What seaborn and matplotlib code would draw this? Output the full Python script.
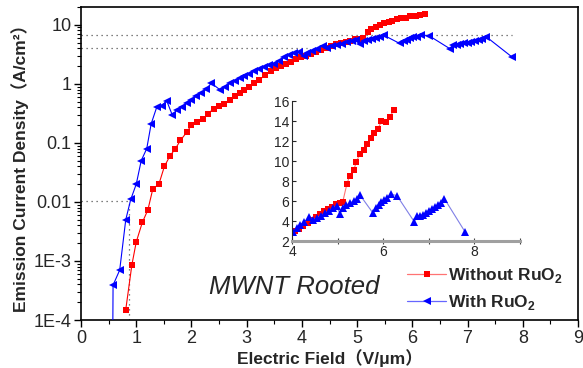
import matplotlib
matplotlib.use("Agg")
import numpy as np
import pandas as pd
import matplotlib.pyplot as plt
import seaborn as sns
from matplotlib.lines import Line2D
from matplotlib.ticker import MultipleLocator

# ---------------- data ----------------
red_x = [0.81, 0.92, 1.00, 1.11, 1.21, 1.30, 1.41, 1.51, 1.61, 1.71,
         1.80, 1.91, 2.00, 2.10, 2.21, 2.30, 2.40, 2.49, 2.59, 2.69,
         2.78, 2.87, 2.96, 3.05, 3.14, 3.23, 3.34, 3.44, 3.53, 3.62,
         3.71, 3.80, 3.89, 3.98, 4.07, 4.16, 4.25, 4.34, 4.43, 4.52,
         4.61, 4.70, 4.79, 4.88, 4.97, 5.05, 5.11, 5.20, 5.26, 5.35,
         5.41, 5.48, 5.57, 5.64, 5.73, 5.80, 5.88, 5.96, 6.06, 6.14, 6.23]
red_y = [1.5e-4, 8.5e-4, 2.1e-3, 4.5e-3, 7.3e-3, 0.0166, 0.020, 0.040, 0.060, 0.080,
         0.11, 0.15, 0.20, 0.23, 0.255, 0.31, 0.38, 0.42, 0.45, 0.54,
         0.61, 0.70, 0.80, 0.90, 1.03, 1.17, 1.42, 1.68, 1.85, 2.02,
         2.18, 2.38, 2.6, 2.8, 3.0, 3.2, 3.5, 3.8, 4.1, 4.4,
         4.7, 5.0, 5.2, 5.4, 5.7, 5.85, 5.9, 7.67, 8.5, 9.1,
         9.9, 10.7, 11.1, 11.7, 12.3, 12.8, 13.2, 14.0, 13.9, 14.4, 15.1]

blue_x = [0.57, 0.58, 0.70, 0.81, 0.90, 1.00, 1.09, 1.19, 1.27, 1.37,
          1.46, 1.55, 1.65, 1.74, 1.82, 1.91, 2.00, 2.09, 2.18, 2.27,
          2.36, 2.51, 2.60, 2.69, 2.78, 2.87, 2.96, 3.05, 3.14, 3.23,
          3.32, 3.41, 3.50, 3.59, 3.68, 3.77, 3.86, 3.95, 4.03, 4.10,
          4.18, 4.27, 4.38, 4.45, 4.54, 4.63, 4.72, 4.81, 4.90, 4.98,
          5.05, 5.12, 5.19, 5.27, 5.35, 5.42, 5.49, 5.77, 5.84, 5.90,
          5.96, 6.02, 6.08, 6.16, 6.30, 6.68, 6.74, 6.80, 6.87, 6.93,
          7.00, 7.07, 7.13, 7.20, 7.27, 7.34, 7.80]
blue_y = [1e-5, 3.9e-4, 7.0e-4, 5.0e-3, 0.011, 0.020, 0.05, 0.08, 0.21, 0.40,
          0.42, 0.52, 0.30, 0.36, 0.40, 0.47, 0.54, 0.62, 0.71, 0.81,
          1.03, 0.80, 0.90, 1.03, 1.12, 1.24, 1.37, 1.48, 1.66, 1.80,
          1.94, 2.05, 2.20, 2.45, 2.80, 3.10, 3.30, 3.50, 2.93, 3.30,
          3.60, 3.90, 4.43, 4.10, 4.30, 4.55, 4.80, 5.05, 5.30, 5.55,
          4.67, 5.30, 5.60, 5.80, 6.00, 6.20, 6.60, 4.83, 5.30, 5.60,
          5.90, 6.10, 6.30, 6.70, 6.55, 3.93, 4.50, 4.55, 4.65, 4.85,
          5.00, 5.20, 5.40, 5.60, 5.85, 6.25, 2.87]

series_labels = ["Without RuO$_\\mathbf{2}$", "With RuO$_\\mathbf{2}$"]

x_ticks = [0, 1, 2, 3, 4, 5, 6, 7, 8, 9]
y_ticks = [1e-4, 1e-3, 0.01, 0.1, 1, 10]
y_tick_labels = ["1E-4", "1E-3", "0.01", "0.1", "1", "10"]

inset_x_ticks = [4, 6, 8]
inset_y_ticks = [2, 4, 6, 8, 10, 12, 14, 16]

# reference (dotted) guide lines: level and right end
guide_levels = [6.6, 4.0, 0.0105]
guide_x_end = [7.8, 4.1, 0.87]

annotation = "MWNT Rooted"

# ---------------- style ----------------
sns.set_style("ticks")
plt.rcParams["font.family"] = ["Liberation Sans", "Noto Sans CJK SC", "DejaVu Sans"]
plt.rcParams["mathtext.fontset"] = "custom"
plt.rcParams["mathtext.rm"] = "Liberation Sans"
plt.rcParams["mathtext.bf"] = "Liberation Sans:bold"

RED = "#ff0000"
BLUE = "#0000ff"
LIGHT_RED = (1.0, 0.45, 0.45)
LIGHT_BLUE = (0.5, 0.5, 0.9)

red_df = pd.DataFrame({"E": red_x, "J": red_y})
blue_df = pd.DataFrame({"E": blue_x, "J": blue_y})

fig = plt.figure(figsize=(5.83, 3.68), dpi=100)
ax = fig.add_axes([0.139, 0.1304, 0.8524, 0.8506])
ax.set_yscale("log")

# dotted guides
for lvl, xe in zip(guide_levels, guide_x_end):
    ax.plot([0, xe], [lvl, lvl], linestyle=(0, (1, 3)), color="#555555", lw=0.9, zorder=1)
ax.plot([guide_x_end[2], guide_x_end[2]], [1e-4, guide_levels[2]],
        linestyle=(0, (1, 3)), color="#555555", lw=0.9, zorder=1)

sns.lineplot(data=red_df, x="E", y="J", ax=ax, sort=False, estimator=None,
             color=RED, lw=0.8, marker="s", markersize=4.6, markeredgewidth=0,
             legend=False, zorder=3)
sns.lineplot(data=blue_df, x="E", y="J", ax=ax, sort=False, estimator=None,
             color=BLUE, lw=0.8, marker="<", markersize=6.3, markeredgewidth=0,
             legend=False, zorder=4)

ax.set_xlim(0, 9)
ax.set_ylim(1e-4, 20)
ax.set_xticks(x_ticks)
ax.set_xticklabels([str(t) for t in x_ticks])
ax.xaxis.set_minor_locator(MultipleLocator(0.5))
ax.set_yticks(y_ticks)
ax.set_yticklabels(y_tick_labels)
ax.tick_params(axis="both", which="major", direction="out", length=5, width=1,
               labelsize=13, color="black", pad=2)
ax.tick_params(axis="both", which="minor", direction="out", length=3, width=0.8,
               color="black")
for s in ax.spines.values():
    s.set_visible(True)
    s.set_linewidth(1.2)
    s.set_color("black")

ax.set_xlabel("Electric Field（V/μm）", fontsize=12.5, fontweight="bold", labelpad=2)
ax.set_ylabel("Emission Current Density（A/cm²）", fontsize=12.5, fontweight="bold", labelpad=3)

ax.text(0.429, 0.105, annotation, transform=ax.transAxes, ha="center", va="center",
        fontsize=18.5, style="italic", family=["Liberation Sans"])

handles = [Line2D([], [], color=LIGHT_RED, lw=0.9, marker="s", markersize=4.6,
                  markerfacecolor=RED, markeredgecolor=RED, markeredgewidth=0),
           Line2D([], [], color=(0.4, 0.4, 1.0), lw=0.9, marker="<", markersize=6.3,
                  markerfacecolor=BLUE, markeredgecolor=BLUE, markeredgewidth=0)]
leg = ax.legend(handles, series_labels, loc="center left", bbox_to_anchor=(0.655, 0.10),
                frameon=False, handlelength=2.3, handletextpad=0.1, labelspacing=0.45,
                borderpad=0, borderaxespad=0,
                prop={"weight": "bold", "size": 12.5, "family": "Liberation Sans"})

# ---------------- inset ----------------
ins = fig.add_axes([0.501, 0.345, 0.391, 0.380])
ins.set_facecolor("none")
red_in = red_df[red_df["E"] >= 4.0]
blue_in = blue_df[blue_df["E"] >= 4.0]
sns.lineplot(data=red_in, x="E", y="J", ax=ins, sort=False, estimator=None,
             color=LIGHT_RED, lw=0.8, marker="s", markersize=4.3, markeredgewidth=0,
             markerfacecolor=RED, markeredgecolor=RED, legend=False)
sns.lineplot(data=blue_in, x="E", y="J", ax=ins, sort=False, estimator=None,
             color=LIGHT_BLUE, lw=0.8, marker="^", markersize=5.3, markeredgewidth=0,
             markerfacecolor=BLUE, markeredgecolor=BLUE, legend=False)
ins.set_xlim(4, 9)
ins.set_ylim(2, 16)
ins.set_xticks(inset_x_ticks)
ins.set_xticklabels([str(t) for t in inset_x_ticks])
ins.xaxis.set_minor_locator(MultipleLocator(1))
ins.set_yticks(inset_y_ticks)
ins.set_yticklabels([str(t) for t in inset_y_ticks])
ins.set_xlabel("")
ins.set_ylabel("")
ins.spines["top"].set_visible(False)
ins.spines["right"].set_visible(False)
ins.spines["left"].set_linewidth(0.8)
ins.spines["bottom"].set_linewidth(2.2)
ins.spines["bottom"].set_color("#a0a0a0")
ins.tick_params(axis="y", which="major", direction="in", length=3, width=0.8,
                labelsize=10, pad=2)
ins.tick_params(axis="x", which="both", direction="inout", length=4, width=0.8,
                labelsize=10, pad=1, color="#444444")

fig.savefig("out.png", dpi=100)
